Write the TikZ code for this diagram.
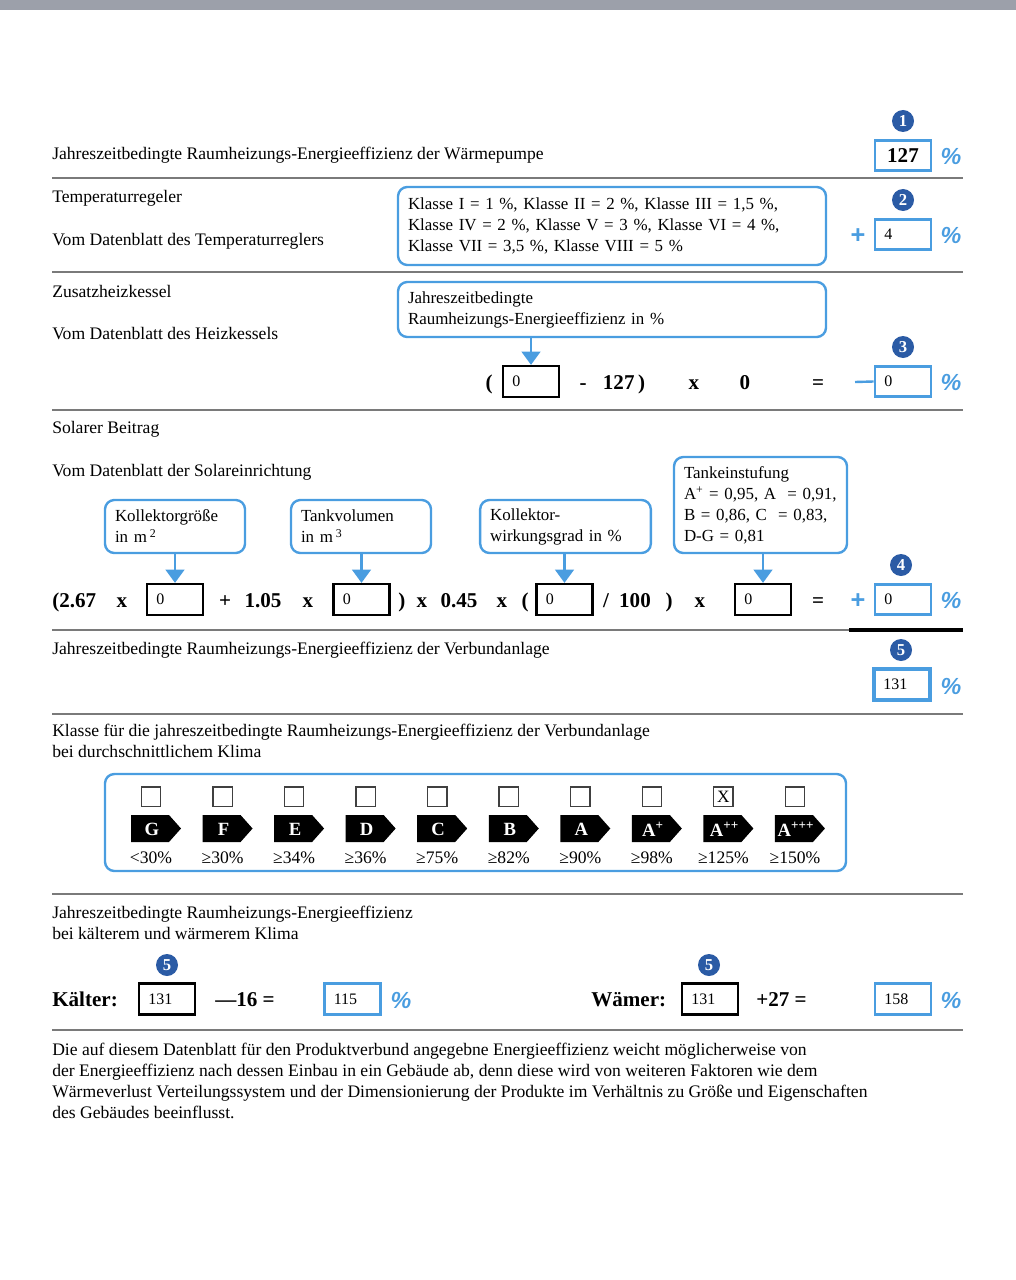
\documentclass[tikz,border=0pt]{standalone}
\usepackage{fontspec}
\setmainfont{Liberation Serif}
\setsansfont{Liberation Sans}
\usetikzlibrary{arrows.meta}
\definecolor{lblue}{HTML}{4A9DE0}
\definecolor{dblue}{HTML}{2B5BA5}
\definecolor{topbar}{HTML}{9CA0AA}
\definecolor{sepgray}{HTML}{7A7A7A}
\begin{document}
\begin{tikzpicture}[x=0.75pt,y=-0.75pt,
 txt/.style={inner sep=0pt, anchor=base west, font=\fontsize{13.2}{15.75}\selectfont},
 ftxt/.style={inner sep=0pt, anchor=base, font=\fontsize{15.8}{18}\selectfont\bfseries},
 sep/.style={draw=sepgray, line width=0.8pt},
 badge/.style={circle, fill=dblue, inner sep=0pt, minimum size=16.5pt, text=white, font=\fontsize{12.5}{12}\selectfont\bfseries},
 vbox/.style={draw, rectangle, minimum height=23pt, text width=28pt, inner xsep=7pt, inner ysep=0pt, align=left, font=\fontsize{12}{14}\selectfont},
 bbox/.style={vbox, draw=lblue, line width=2.2pt},
 kbox/.style={vbox, draw=black, line width=1.9pt},
 pct/.style={inner sep=0pt, text=lblue, font=\fontsize{17.5}{17}\selectfont\sffamily\bfseries\itshape},
 bplus/.style={inner sep=0pt, text=lblue, font=\fontsize{19}{19}\selectfont\sffamily\bfseries},
 callout/.style={draw=lblue, line width=1.8pt, rounded corners=7pt, inner xsep=7.5pt, inner ysep=0pt, align=left, font=\fontsize{12.7}{15.75}\selectfont},
 barrow/.style={draw=lblue, line width=2pt, -{Triangle[length=10pt,width=14pt]}},
 chk/.style={draw=black!75, line width=1pt, minimum size=14.5pt, inner sep=0pt, font=\fontsize{13}{13}\selectfont},
 clet/.style={inner sep=0pt, text=white, font=\fontsize{14}{14}\selectfont\bfseries},
 clab/.style={inner sep=0pt, anchor=base, font=\fontsize{13.2}{15}\selectfont}
]
\useasboundingbox (0,0) rectangle (1016,1280);
\fill[topbar] (0,0) rectangle (1016,10);

% --- section 1
\node[txt] (t1) at (52,160) {Jahreszeitbedingte Raumheizungs-Energieeffizienz der Wärmepumpe};
\node[badge] (b1) at (903,121) {1};
\node[bbox, align=center, font=\fontsize{15.8}{18}\selectfont\bfseries] (v1) at (903,155.5) {127};
\node[pct] (p1) at (951,156) {\%};
\draw[sep] (52,178) -- (963,178);

% --- section 2
\node[txt] (t2a) at (52,203) {Temperaturregeler};
\node[txt] (t2b) at (52,245) {Vom Datenblatt des Temperaturreglers};
\node[callout, text width=306pt, minimum height=58.5pt] (c2) at (612,226) {Klasse I = 1 \%, Klasse II = 2 \%, Klasse III = 1,5 \%,\\Klasse IV = 2 \%, Klasse V = 3 \%, Klasse VI = 4 \%,\\Klasse VII = 3,5 \%, Klasse VIII = 5 \%};
\node[badge] (b2) at (903,200) {2};
\node[bplus] (pl2) at (858,236) {+};
\node[bbox] (v2) at (903,234.5) {4};
\node[pct] (p2) at (951,235) {\%};
\draw[sep] (52,272) -- (963,272);

% --- section 3
\node[txt] (t3a) at (52,297) {Zusatzheizkessel};
\node[txt] (t3b) at (52,339) {Vom Datenblatt des Heizkessels};
\node[callout, text width=306pt, minimum height=41.25pt] (c3) at (612,309.5) {Jahreszeitbedingte\\Raumheizungs-Energieeffizienz in \%};
\node[ftxt] (o3) at (489,389) {(};
\node[kbox] (x3) at (531,381.5) {0};
\node[ftxt] (m3) at (583,389) {-};
\node[ftxt] (n3) at (624,389) {127\,)};
\node[ftxt] (x3m) at (694,389) {x};
\node[ftxt] (z3) at (745,389) {0};
\node[ftxt] (e3) at (818,389) {=};
\node[badge] (b3) at (903,347) {3};
\node[bbox] (v3) at (903,381.5) {0};
\node[pct] (p3) at (951,382) {\%};
\coordinate (mn3) at (855,382);
\draw[draw=lblue, line width=1.8pt] (mn3) -- (v3.west);
\draw[barrow] (c3.south -| x3.north) -- (x3.north);
\draw[sep] (52,410) -- (963,410);

% --- section 4
\node[txt] (t4a) at (52,433) {Solarer Beitrag};
\node[txt] (t4b) at (52,476) {Vom Datenblatt der Solareinrichtung};
\node[callout, text width=90pt, minimum height=39.75pt] (k1) at (175,526.5) {Kollektorgröße\\in m\,\textsuperscript{2}};
\node[callout, text width=90pt, minimum height=39.75pt] (k2) at (361,526.5) {Tankvolumen\\in m\,\textsuperscript{3}};
\node[callout, text width=113pt, minimum height=39.75pt] (k3) at (565.5,526.5) {Kollektor-\\wirkungsgrad in \%};
\node[callout, text width=114.75pt, minimum height=72pt] (k4) at (760.5,505) {Tankeinstufung\\A\textsuperscript{+} = 0,95, A~~= 0,91,\\B = 0,86, C~~= 0,83,\\D-G = 0,81};
\node[ftxt, anchor=base west] (s1) at (52,607) {(2.67};
\node[ftxt] (s2) at (122,607) {x};
\node[kbox] (f1) at (175,599.5) {0};
\node[ftxt] (s3) at (225,607) {+};
\node[ftxt] (s4) at (263,607) {1.05};
\node[ftxt] (s5) at (308,607) {x};
\node[kbox] (f2) at (361.5,599.5) {0};
\node[ftxt] (s6) at (402,607) {)};
\node[ftxt] (s7) at (422,607) {x};
\node[ftxt] (s8) at (459,607) {0.45};
\node[ftxt] (s9) at (502,607) {x};
\node[ftxt] (s10) at (525,607) {(};
\node[kbox] (f3) at (564.5,599.5) {0};
\node[ftxt] (s11) at (606,607) {/};
\node[ftxt] (s12) at (635,607) {100};
\node[ftxt] (s13) at (669,607) {)};
\node[ftxt] (s14) at (700,607) {x};
\node[kbox] (f4) at (763,599.5) {0};
\node[ftxt] (s15) at (818,607) {=};
\node[bplus] (pl4) at (858,601) {+};
\node[badge] (b4) at (901,565) {4};
\node[bbox] (v4) at (903,599.5) {0};
\node[pct] (p4) at (951,600) {\%};
\draw[barrow] (k1.south -| f1.north) -- (f1.north);
\draw[barrow] (k2.south -| f2.north) -- (f2.north);
\draw[barrow] (k3.south -| f3.north) -- (f3.north);
\draw[barrow] (k4.south -| f4.north) -- (f4.north);
\draw[sep] (52,630) -- (963,630);
\draw[line width=3pt] (849,630) -- (963,630);

% --- section 5
\node[txt] (t5) at (52,654) {Jahreszeitbedingte Raumheizungs-Energieeffizienz der Verbundanlage};
\node[badge] (b5) at (901,650) {5};
\node[vbox, draw=lblue, line width=3pt] (v5) at (902,684.5) {131};
\node[pct] (p5) at (951,686) {\%};
\draw[sep] (52,714) -- (963,714);

% --- section 6
\node[txt] (t6a) at (52,736) {Klasse für die jahreszeitbedingte Raumheizungs-Energieeffizienz der Verbundanlage};
\node[txt] (t6b) at (52,757) {bei durchschnittlichem Klima};
\node[draw=lblue, line width=1.8pt, rounded corners=7pt, minimum width=555.75pt, minimum height=72.75pt, inner sep=0pt] (cls) at (475.5,822.5) {};
\foreach \L/\R [count=\n from 0] in {G/{<30\%},F/{≥30\%},E/{≥34\%},D/{≥36\%},C/{≥75\%},B/{≥82\%},A/{≥90\%},{A\textsuperscript{+}}/{≥98\%},{A\textsuperscript{++}}/{≥125\%},{A\textsuperscript{+++}}/{≥150\%}}{
  \pgfmathsetmacro{\c}{151+\n*71.55}
  \node[chk] (cb\n) at (\c,796.5) {\ifnum\n=8 X\fi};
  \fill (\c-20,815) -- (\c+18,815) -- (\c+30,828.5) -- (\c+18,842) -- (\c-20,842) -- cycle;
  \node[clet] (ca\n) at (\c+1,829) {\L};
  \node[clab] (cl\n) at (\c,863) {\R};
}
\draw[sep] (52,894) -- (963,894);

% --- section 7
\node[txt] (t7a) at (52,918) {Jahreszeitbedingte Raumheizungs-Energieeffizienz};
\node[txt] (t7b) at (52,939) {bei kälterem und wärmerem Klima};
\node[ftxt, anchor=base west] (kl) at (52,1006) {Kälter:};
\node[badge] (b6) at (167,965) {5};
\node[kbox] (kv) at (167,999) {131};
\node[ftxt, anchor=base west] (km) at (215,1006) {—16 =};
\node[bbox] (kr) at (352.5,999) {115};
\node[pct] (kp) at (401,1000) {\%};
\node[ftxt, anchor=base west] (wl) at (591,1006) {Wämer:};
\node[badge] (b7) at (709,965) {5};
\node[kbox] (wv) at (710,999) {131};
\node[ftxt, anchor=base west] (wm) at (756,1006) {+27 =};
\node[bbox] (wr) at (903,999) {158};
\node[pct] (wp) at (951,1000) {\%};
\draw[sep] (52,1030) -- (963,1030);

\node[inner sep=0pt, anchor=north west, align=left, font=\fontsize{13.2}{15.75}\selectfont] (para) at (52,1043) {Die auf diesem Datenblatt für den Produktverbund angegebne Energieeffizienz weicht möglicherweise von\\der Energieeffizienz nach dessen Einbau in ein Gebäude ab, denn diese wird von weiteren Faktoren wie dem\\Wärmeverlust Verteilungssystem und der Dimensionierung der Produkte im Verhältnis zu Größe und Eigenschaften\\des Gebäudes beeinflusst.};
\end{tikzpicture}
\end{document}
